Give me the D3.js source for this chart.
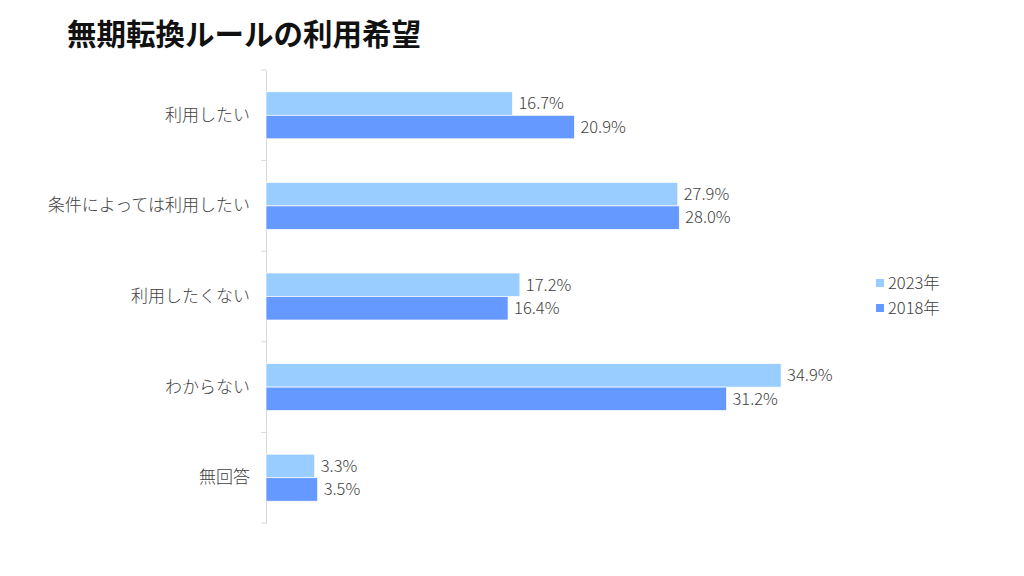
<!DOCTYPE html>
<html><head><meta charset="utf-8">
<script src="https://cdn.jsdelivr.net/npm/d3@7"></script>
<style>body{margin:0;background:#fff;font-family:"Noto Sans CJK JP","Noto Sans",sans-serif;}</style>
</head><body>
<svg id="c" width="1024" height="576"></svg>
<script>
const title = "無期転換ルールの利用希望";
const categories = ["利用したい","条件によっては利用したい","利用したくない","わからない","無回答"];
const seriesNames = ["2023年","2018年"];
const values2023 = [16.7, 27.9, 17.2, 34.9, 3.3];
const values2018 = [20.9, 28.0, 16.4, 31.2, 3.5];
const colors = ["#99CCFF","#6699FF"];

(function(){
const FONT = "'Noto Sans CJK JP',sans-serif";
const svg = d3.select("#c");
svg.append("rect").attr("width",1024).attr("height",576).attr("fill","#fff");
svg.append("text").attr("x",67).attr("y",45).text(title)
  .attr("font-size",29.5).attr("font-weight","bold").attr("fill","#111")
  .attr("font-family",FONT);

const x0 = 266, plotTop = 70, plotBottom = 523;
const x = d3.scaleLinear().domain([0,10]).range([x0, x0+147.6]);
const y = d3.scaleBand().domain(categories).range([plotTop,plotBottom]);
const inner = d3.scaleBand().domain(seriesNames).range([0, 47]);
const off = (y.bandwidth()-47)/2;

const ax = svg.append("g").attr("transform",`translate(${x0},0)`)
  .call(d3.axisLeft(y).tickSize(0).tickPadding(16).tickFormat(d=>d));
ax.select(".domain").attr("stroke","#d9d9d9");
ax.selectAll("text").attr("font-size",17).attr("font-weight",300).attr("fill","#404040")
  .attr("font-family",FONT);
const bounds = categories.map(c=>y(c)).concat([plotBottom]);
svg.append("g").selectAll("line").data(bounds).join("line")
  .attr("x1",x0-5).attr("x2",x0).attr("y1",d=>d).attr("y2",d=>d)
  .attr("stroke","#d9d9d9");

const data = [values2023, values2018];
data.forEach((vals,si)=>{
  const g = svg.append("g");
  g.selectAll("rect").data(vals).join("rect")
    .attr("x",x(0)).attr("y",(d,i)=>y(categories[i])+off+inner(seriesNames[si]))
    .attr("width",d=>x(d)-x(0)).attr("height",inner.bandwidth())
    .attr("fill",colors[si]).attr("stroke","#fff").attr("stroke-width",0.7);
  g.selectAll("text").data(vals).join("text")
    .attr("x",d=>x(d)+6).attr("y",(d,i)=>y(categories[i])+off+inner(seriesNames[si])+inner.bandwidth()/2)
    .attr("dy","0.35em").text(d=>d.toFixed(1)+"%")
    .attr("font-size",16.5).attr("font-weight",300).attr("fill","#404040")
    .attr("font-family",FONT);
});

const lg = svg.append("g").attr("transform","translate(876,283)");
seriesNames.forEach((s,i)=>{
  lg.append("rect").attr("x",0).attr("y",i*25-4).attr("width",8).attr("height",8).attr("fill",colors[i]);
  lg.append("text").attr("x",12).attr("y",i*25).attr("dy","0.35em").text(s)
    .attr("font-size",16.5).attr("font-weight",300).attr("fill","#404040")
    .attr("font-family",FONT);
});
})();
</script>
</body></html>
